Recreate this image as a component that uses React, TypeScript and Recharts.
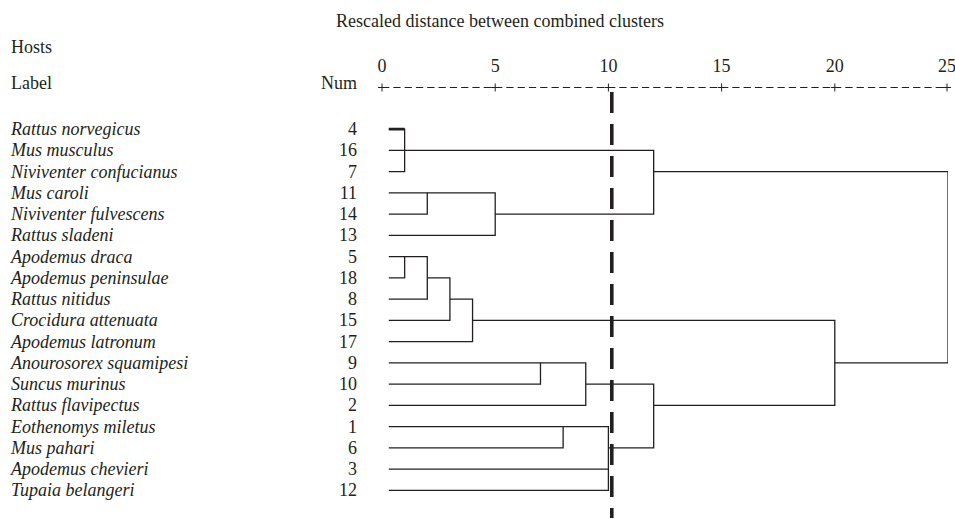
import { LineChart, Line, XAxis, YAxis } from 'recharts';

// leaves, top to bottom
const hostNames = [
  'Rattus norvegicus',
  'Mus musculus',
  'Niviventer confucianus',
  'Mus caroli',
  'Niviventer fulvescens',
  'Rattus sladeni',
  'Apodemus draca',
  'Apodemus peninsulae',
  'Rattus nitidus',
  'Crocidura attenuata',
  'Apodemus latronum',
  'Anourosorex squamipesi',
  'Suncus murinus',
  'Rattus flavipectus',
  'Eothenomys miletus',
  'Mus pahari',
  'Apodemus chevieri',
  'Tupaia belangeri',
];
const hostNums = [4, 16, 7, 11, 14, 13, 5, 18, 8, 15, 17, 9, 10, 2, 1, 6, 3, 12];

// clusters: ids 0-17 are the leaves, ids 18+ are the merges in this order
const mergeChildren = [
  [0, 1, 2], [3, 4], [19, 5], [18, 20],
  [6, 7], [22, 8], [23, 9], [24, 10],
  [11, 12], [26, 13], [14, 15], [28, 16, 17],
  [27, 29], [25, 30], [21, 31],
];
const mergeDistance = [1, 2, 5, 12, 1, 2, 3, 4, 7, 9, 8, 10, 12, 20, 25];
// row where the merged cluster's line continues to its parent
const mergeRow = [1, 3, 4, 2, 6, 7, 8, 9, 11, 12, 14, 15, 13, 11, 6.5];

const leafStart = 0.3;
const boldLeaves = [0];
const cutDistance = 10.15;
const cutRows = [-1.75, 18.3];

const distanceTicks = [0, 5, 10, 15, 20, 25];
const rowTicks = hostNames.map((_, i) => i);

const INK = '#231f20';
const FONT = '"Liberation Serif", "Times New Roman", serif';
const AXIS_Y = 87.5;

type Pt = { x: number; y: number };

function buildLinks() {
  const pos: Pt[] = hostNames.map((_, i) => ({ x: leafStart, y: i }));
  const links: Pt[][] = [];
  mergeChildren.forEach((kids, k) => {
    const d = mergeDistance[k];
    const cs = kids.map((c) => pos[c]).sort((a, b) => a.y - b.y);
    const first = cs[0];
    const last = cs[cs.length - 1];
    links.push([
      { x: first.x, y: first.y },
      { x: d, y: first.y },
      { x: d, y: last.y },
      { x: last.x, y: last.y },
    ]);
    cs.slice(1, -1).forEach((m) => links.push([{ x: m.x, y: m.y }, { x: d, y: m.y }]));
    pos[18 + k] = { x: d, y: mergeRow[k] };
  });
  return links;
}

const links = buildLinks();

const DistanceTick = (props: any) => {
  const { x, payload } = props;
  return (
    <g>
      <text x={x} y={72} textAnchor="middle" fontFamily={FONT} fontSize={18} fill={INK}>
        {payload.value}
      </text>
      <line x1={x - 4} x2={x + 4} y1={AXIS_Y} y2={AXIS_Y} stroke={INK} strokeWidth={1} />
      <line x1={x} x2={x} y1={AXIS_Y - 4} y2={AXIS_Y + 4} stroke={INK} strokeWidth={1} />
    </g>
  );
};

const HostTick = (props: any) => {
  const { y, payload } = props;
  const i = payload.value as number;
  return (
    <g>
      <text x={11} y={y + 6} fontFamily={FONT} fontSize={18} fontStyle="italic" fill={INK}>
        {hostNames[i]}
      </text>
      <text x={357} y={y + 6} textAnchor="end" fontFamily={FONT} fontSize={18} fill={INK}>
        {hostNums[i]}
      </text>
    </g>
  );
};

const textStyle = {
  position: 'absolute' as const,
  fontFamily: FONT,
  fontSize: 18,
  lineHeight: '20px',
  color: INK,
  whiteSpace: 'nowrap' as const,
};

export default function App() {
  return (
    <div style={{ position: 'fixed', left: 0, top: 0, width: 955, height: 519, background: '#fff' }}>
      <LineChart width={955} height={519} margin={{ top: 57.5, right: 7, bottom: 1, left: 0 }}>
        <XAxis
          type="number"
          dataKey="x"
          orientation="top"
          domain={[0, 25]}
          ticks={distanceTicks}
          height={30}
          tickLine={false}
          tick={<DistanceTick />}
          axisLine={{ stroke: INK, strokeWidth: 1, strokeDasharray: '7.3 4' }}
          allowDataOverflow
        />
        <YAxis
          type="number"
          dataKey="y"
          domain={[-1.96, 18.3]}
          reversed
          ticks={rowTicks}
          width={382}
          axisLine={false}
          tickLine={false}
          tick={<HostTick />}
          allowDataOverflow
          interval={0}
        />
        {links.map((pts, i) => (
          <Line
            key={'l' + i}
            data={pts}
            dataKey="y"
            stroke={INK}
            strokeWidth={1.3}
            dot={false}
            activeDot={false}
            isAnimationActive={false}
          />
        ))}
        {boldLeaves.map((r) => (
          <Line
            key={'b' + r}
            data={[{ x: leafStart, y: r }, { x: mergeDistance[0], y: r }]}
            dataKey="y"
            stroke={INK}
            strokeWidth={2.6}
            dot={false}
            activeDot={false}
            isAnimationActive={false}
          />
        ))}
        <Line
          data={cutRows.map((r) => ({ x: cutDistance, y: r }))}
          dataKey="y"
          stroke={INK}
          strokeWidth={3.6}
          strokeDasharray="21 11"
          dot={false}
          activeDot={false}
          isAnimationActive={false}
        />
      </LineChart>
      <div style={{ ...textStyle, left: 500, top: 11, transform: 'translateX(-50%)' }}>
        Rescaled distance between combined clusters
      </div>
      <div style={{ ...textStyle, left: 11, top: 37 }}>Hosts</div>
      <div style={{ ...textStyle, left: 11, top: 73 }}>Label</div>
      <div style={{ ...textStyle, left: 297, top: 73, width: 60, textAlign: 'right' }}>Num</div>
    </div>
  );
}
